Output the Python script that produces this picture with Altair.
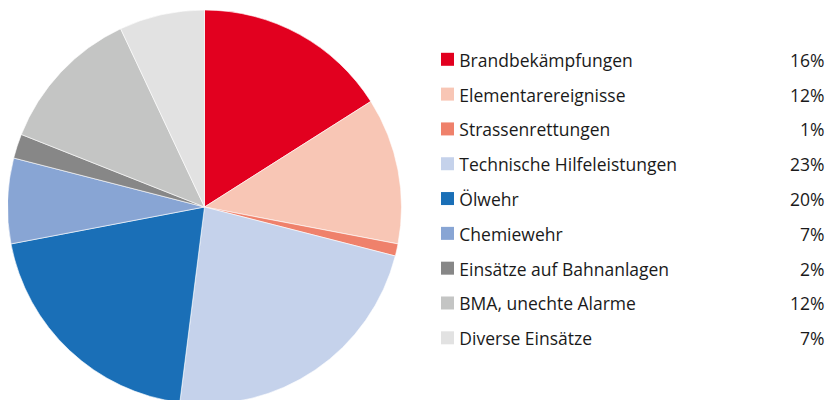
import altair as alt
import pandas as pd

categories = ["Brandbekämpfungen", "Elementarereignisse", "Strassenrettungen",
              "Technische Hilfeleistungen", "Ölwehr", "Chemiewehr",
              "Einsätze auf Bahnanlagen", "BMA, unechte Alarme", "Diverse Einsätze"]
values = [16, 12, 1, 23, 20, 7, 2, 12, 7]
pct_labels = ["16%", "12%", "1%", "23%", "20%", "7%", "2%", "12%", "7%"]
colors = ["#E2001F", "#F8C6B5", "#EF816B", "#C5D2EB", "#1A6FB7", "#88A5D4",
          "#878787", "#C4C5C4", "#E2E2E2"]

df = pd.DataFrame({
    "cat": categories,
    "value": values,
    "pct": pct_labels,
    "order": list(range(len(categories))),
})

color = alt.Color("cat:N", scale=alt.Scale(domain=categories, range=colors), legend=None)
yscale = alt.Scale(domain=categories, range=[51.3, 329.8], padding=0)
FONT = "Open Sans"
FS = 17.5

pie = alt.Chart(df).mark_arc(radius=197, stroke="white", strokeWidth=0.6).encode(
    theta=alt.Theta("value:Q", stack=True),
    order=alt.Order("order:Q"),
    color=color,
    x=alt.value(196.5),
    y=alt.value(199),
)

squares = alt.Chart(df).mark_square(size=169, opacity=1).encode(
    y=alt.Y("cat:N", scale=yscale, axis=None),
    x=alt.value(439.5),
    color=color,
)

labels = alt.Chart(df).mark_text(align="left", baseline="middle", font=FONT, dy=2.5,
                                 fontSize=FS, color="#1a1a1a").encode(
    y=alt.Y("cat:N", scale=yscale, axis=None),
    x=alt.value(451.3),
    text="cat:N",
)

pcts = alt.Chart(df).mark_text(align="right", baseline="middle", font=FONT, dy=2.5,
                               fontSize=FS, color="#1a1a1a").encode(
    y=alt.Y("cat:N", scale=yscale, axis=None),
    x=alt.value(816.5),
    text="pct:N",
)

chart = alt.layer(pie, squares, labels, pcts).properties(
    width=817, height=392,
    padding=0,
    autosize=alt.AutoSizeParams(type="none"),
).configure_view(stroke=None)

chart.save("out.html", embed_options={"renderer": "svg", "actions": False})
